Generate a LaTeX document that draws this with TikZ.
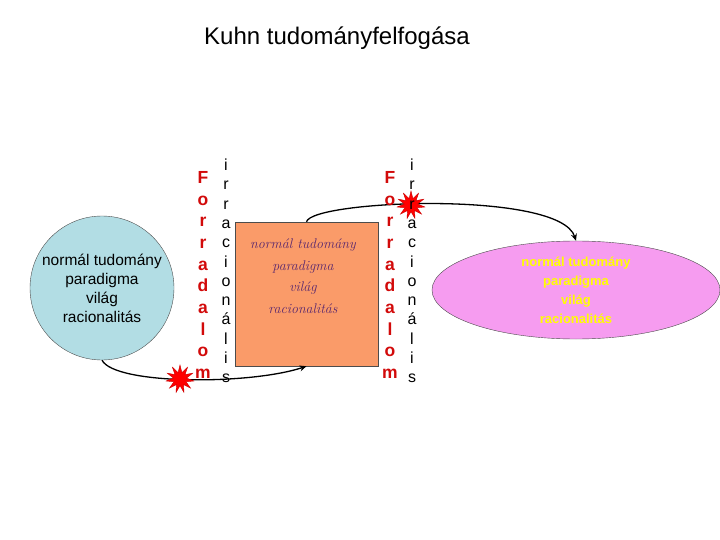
\documentclass[tikz,border=0pt]{standalone}
\usepackage{fontspec}
\newfontfamily\sansA{Liberation Sans}
\usetikzlibrary{arrows.meta,shapes.geometric}
\definecolor{circfill}{RGB}{178,221,228}
\definecolor{rectfill}{RGB}{250,155,105}
\definecolor{ellfill}{RGB}{246,156,240}
\definecolor{revred}{RGB}{210,10,10}
\definecolor{rtext}{RGB}{90,40,110}
\definecolor{etext}{RGB}{255,255,0}
\tikzset{
  revol/.style={text=revred, font=\sansA\bfseries\fontsize{17.5}{21.7}\selectfont, align=center, inner sep=0},
  irr/.style={font=\sansA\fontsize{16}{19.3}\selectfont, align=center, inner sep=0},
  conn/.style={line width=1.3pt, -{Stealth[length=7pt,width=6pt]}},
  burst/.style={star, star points=11, star point ratio=2.1, fill=red, draw=red!80!black, minimum size=28pt, inner sep=0}
}
\begin{document}
\begin{tikzpicture}[x=1pt,y=-1pt]
\useasboundingbox (0,0) rectangle (720,540);
\node[font=\sansA\fontsize{24}{28}\selectfont] (title) at (337,38) {Kuhn tudományfelfogása};
\node[circle, draw=black!70, fill=circfill, minimum size=144pt, inner sep=0, align=center,
      font=\sansA\fontsize{15.5}{19}\selectfont] (circ) at (102,288)
      {normál tudomány\\paradigma\\világ\\racionalitás};
\node[draw=black!70, fill=rectfill, minimum width=143pt, minimum height=144pt, inner sep=0] (rect) at (306.5,294) {};
\node[align=center, text=rtext, font=\itshape\fontsize{14}{21.5}\selectfont, inner sep=0] (rtxt) at (303,276)
      {normál tudomány\\paradigma\\világ\\racionalitás};
\node[ellipse, draw=black!70, fill=ellfill, minimum width=288pt, minimum height=98pt, inner sep=0, align=center,
      text=etext, font=\sansA\bfseries\fontsize{13}{19}\selectfont] (ell) at (576,290)
      {normál tudomány\\paradigma\\világ\\racionalitás};
\draw[conn] (circ.south) .. controls (115,385) and (250,385) .. (rect.south);
\draw[conn] (rect.north) .. controls (312,200) and (560,190) .. (ell.north);
\node[burst] (sb1) at (180,379) {};
\node[burst] (sb2) at (411,205) {};
\node[revol] (rev1) at (203,275) {F\\o\\r\\r\\a\\d\\a\\l\\o\\m};
\node[irr] (irr1) at (226,271) {i\\r\\r\\a\\c\\i\\o\\n\\á\\l\\i\\s};
\node[revol] (rev2) at (390,275) {F\\o\\r\\r\\a\\d\\a\\l\\o\\m};
\node[irr] (irr2) at (412,271) {i\\r\\r\\a\\c\\i\\o\\n\\á\\l\\i\\s};
\end{tikzpicture}
\end{document}
